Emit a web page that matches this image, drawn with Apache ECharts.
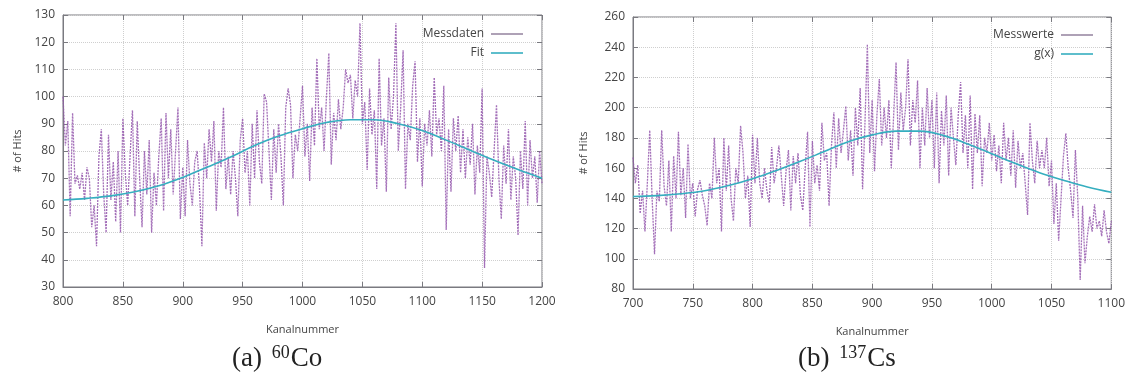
<!DOCTYPE html>
<html>
<head>
<meta charset="utf-8">
<title>Gamma-Spektren 60Co und 137Cs</title>
<script src="https://cdn.jsdelivr.net/npm/echarts@6/dist/echarts.min.js"></script>
<style>
  html, body { margin: 0; padding: 0; background: #fff; }
  #chart { width: 1128px; height: 382px; }
</style>
</head>
<body>
<div id="chart"></div>
<script>
// ---- Messdaten 60Co: Kanäle 800..1200 in Schritten von 2 ----
const coStart = 800;
const coStep = 2;
const coCounts = [
  100, 82, 91, 56, 94, 68, 71, 66, 72, 62, 74, 70, 52, 60, 45, 78, 88, 64, 50, 86,
  62, 76, 54, 80, 50, 92, 72, 60, 78, 95, 56, 91, 70, 52, 80, 64, 84, 50, 72, 60,
  78, 92, 58, 94, 70, 88, 64, 80, 96, 55, 74, 56, 84, 68, 60, 76, 80, 66, 45, 83,
  70, 88, 76, 91, 58, 80, 74, 96, 66, 78, 64, 80, 70, 56, 84, 92, 72, 80, 60, 90,
  70, 95, 76, 68, 101, 98, 80, 62, 88, 72, 90, 78, 60, 96, 103, 97, 70, 86, 80, 92,
  104, 78, 90, 69, 96, 82, 114, 88, 96, 80, 100, 116, 75, 94, 84, 99, 88, 96, 110, 105,
  108, 92, 106, 100, 127, 90, 98, 73, 103, 86, 95, 66, 114, 82, 92, 65, 107, 88, 100, 127,
  80, 96, 117, 66, 90, 84, 104, 113, 76, 92, 67, 90, 82, 95, 78, 107, 86, 92, 80, 104,
  51, 88, 65, 92, 80, 93, 72, 88, 70, 85, 75, 90, 64, 82, 72, 103, 37, 78, 72, 63,
  80, 97, 70, 55, 82, 68, 88, 62, 78, 70, 49, 80, 66, 91, 60, 84, 70, 78, 61, 80,
  68
];
// Fit 60Co
const coFitChannels = [800, 820, 840, 860, 880, 900, 920, 940, 960, 980, 1000, 1020, 1040, 1060, 1080, 1100, 1120, 1140, 1160, 1180, 1200];
const coFitValues = [62.0, 62.6, 63.5, 65.0, 67.2, 70.3, 74.0, 77.8, 82.0, 85.5, 88.2, 90.5, 91.5, 91.5, 90.0, 87.5, 84.0, 80.3, 76.6, 73.2, 70.0];

// ---- Messwerte 137Cs: Kanäle 700..1100 in Schritten von 2 ----
const csStart = 700;
const csStep = 2;
const csCounts = [
  167, 150, 162, 130, 145, 118, 150, 185, 140, 103, 145, 138, 185, 148, 135, 165, 118, 168, 140, 184,
  142, 160, 127, 176, 140, 150, 128, 146, 152, 142, 135, 122, 150, 140, 180, 150, 160, 118, 180, 145,
  175, 140, 125, 160, 150, 188, 170, 140, 155, 121, 182, 150, 180, 150, 140, 160, 145, 137, 174, 150,
  160, 175, 155, 135, 158, 172, 132, 168, 150, 170, 142, 132, 160, 184, 121, 178, 150, 162, 145, 190,
  165, 170, 135, 175, 197, 160, 193, 170, 185, 201, 165, 185, 155, 200, 175, 213, 146, 190, 242, 170,
  205, 158, 195, 219, 175, 200, 180, 205, 160, 195, 230, 172, 210, 185, 200, 232, 175, 205, 190, 218,
  160, 200, 175, 213, 180, 205, 160, 210, 150, 198, 175, 208, 155, 200, 180, 162, 195, 217, 170, 195,
  160, 208, 146, 196, 170, 195, 148, 180, 170, 190, 165, 182, 158, 175, 150, 190, 165, 180, 155, 185,
  147, 178, 160, 170, 150, 129, 190, 165, 150, 178, 160, 172, 160, 180, 148, 165, 123, 150, 112, 140,
  168, 183, 160, 145, 127, 172, 140, 86, 135, 97, 115, 128, 118, 136, 120, 125, 115, 132, 118, 110,
  125
];
// Fit g(x) 137Cs
const csFitChannels = [700, 720, 740, 760, 780, 800, 820, 840, 860, 880, 900, 920, 940, 960, 980, 1000, 1020, 1040, 1060, 1080, 1100];
const csFitValues = [141.2, 141.8, 143.0, 145.0, 148.5, 153.0, 158.5, 164.5, 171.0, 177.5, 182.0, 184.5, 184.5, 181.5, 176.0, 169.5, 163.0, 157.0, 152.0, 147.5, 144.0];

// Achsen
const coXTicks = { min: 800, max: 1200, interval: 50 };
const coYTicks = { min: 30, max: 130, interval: 10 };
const csXTicks = { min: 700, max: 1100, interval: 50 };
const csYTicks = { min: 80, max: 260, interval: 20 };

function pairs(start, step, values) {
  return values.map((v, i) => [start + i * step, v]);
}
function zip(xs, ys) {
  return xs.map((x, i) => [x, ys[i]]);
}

const FONT = 'Open Sans';
const TXT = '#444';
const FRAME = '#7a7a80';
const DATA_COLOR = '#9457ad';
const FIT_COLOR = '#35aebf';
const plain = v => String(v);

const grids = [
  { left: 63, top: 15, width: 479, height: 272, show: true, borderColor: FRAME, borderWidth: 1 },
  { left: 633, top: 17, width: 479, height: 272, show: true, borderColor: FRAME, borderWidth: 1 }
];

function mainX(gi, t) {
  return {
    type: 'value', gridIndex: gi, min: t.min, max: t.max, interval: t.interval,
    name: 'Kanalnummer', nameLocation: 'middle', nameGap: 37,
    nameTextStyle: { fontFamily: FONT, fontSize: 11, color: TXT },
    axisLine: { show: true, onZero: false, lineStyle: { color: FRAME } },
    axisTick: { show: true, inside: true, length: 5, lineStyle: { color: FRAME } },
    axisLabel: { fontFamily: FONT, fontSize: 12, color: TXT, margin: 9, formatter: plain },
    splitLine: { show: true, lineStyle: { color: '#cfcfcf', type: 'dotted', width: 1 } }
  };
}
function mirrorX(gi, t) {
  return {
    type: 'value', gridIndex: gi, position: 'top', min: t.min, max: t.max, interval: t.interval,
    axisLine: { show: false },
    axisTick: { show: true, inside: true, length: 5, lineStyle: { color: FRAME } },
    axisLabel: { show: false }, splitLine: { show: false }
  };
}
function mainY(gi, t, gap) {
  return {
    type: 'value', gridIndex: gi, min: t.min, max: t.max, interval: t.interval,
    name: '# of Hits', nameLocation: 'middle', nameGap: gap, nameRotate: 90,
    nameTextStyle: { fontFamily: FONT, fontSize: 11, color: TXT },
    axisLine: { show: true, onZero: false, lineStyle: { color: FRAME } },
    axisTick: { show: true, inside: true, length: 5, lineStyle: { color: FRAME } },
    axisLabel: { fontFamily: FONT, fontSize: 12, color: TXT, margin: 8, formatter: plain },
    splitLine: { show: true, lineStyle: { color: '#cfcfcf', type: 'dotted', width: 1 } }
  };
}
function mirrorY(gi, t) {
  return {
    type: 'value', gridIndex: gi, position: 'right', min: t.min, max: t.max, interval: t.interval,
    axisLine: { show: false },
    axisTick: { show: true, inside: true, length: 5, lineStyle: { color: FRAME } },
    axisLabel: { show: false }, splitLine: { show: false }
  };
}

function dataSeries(name, xi, yi, data) {
  return {
    name: name, type: 'line', xAxisIndex: xi, yAxisIndex: yi, data: data,
    showSymbol: false, symbol: 'none', animation: false,
    lineStyle: { color: DATA_COLOR, width: 1.3, type: [2, 1], opacity: 0.85 },
    itemStyle: { color: '#9a8aa4' }
  };
}
function fitSeries(name, xi, yi, data) {
  return {
    name: name, type: 'line', xAxisIndex: xi, yAxisIndex: yi, data: data,
    smooth: 0.4, showSymbol: false, symbol: 'none', animation: false, z: 3,
    lineStyle: { color: FIT_COLOR, width: 1.6 },
    itemStyle: { color: FIT_COLOR }
  };
}

function legendAt(names, right, top) {
  return {
    data: names.map(n => ({ name: n, icon: 'path://M0,0 L32,0 L32,1.6 L0,1.6 Z' })),
    orient: 'vertical', right: right, top: top, align: 'right',
    itemWidth: 32, itemHeight: 2, itemGap: 7,
    textStyle: { fontFamily: FONT, fontSize: 12, color: TXT, padding: [0, 2, 0, 0] },
    selectedMode: false
  };
}

const CAPTION_FONT = '27px "Liberation Serif", serif';
const SUP_FONT = '18px "Liberation Serif", serif';

const chart = echarts.init(document.getElementById('chart'), null, { renderer: 'canvas' });
chart.setOption({
  backgroundColor: '#ffffff',
  animation: false,
  grid: grids,
  xAxis: [mainX(0, coXTicks), mainX(1, csXTicks), mirrorX(0, coXTicks), mirrorX(1, csXTicks)],
  yAxis: [mainY(0, coYTicks, 40), mainY(1, csYTicks, 44), mirrorY(0, coYTicks), mirrorY(1, csYTicks)],
  legend: [
    legendAt(['Messdaten', 'Fit'], 600, 23),
    legendAt(['Messwerte', 'g(x)'], 30, 24)
  ],
  series: [
    dataSeries('Messdaten', 0, 0, pairs(coStart, coStep, coCounts)),
    fitSeries('Fit', 0, 0, zip(coFitChannels, coFitValues)),
    dataSeries('Messwerte', 1, 1, pairs(csStart, csStep, csCounts)),
    fitSeries('g(x)', 1, 1, zip(csFitChannels, csFitValues))
  ],
  graphic: [
    {
      type: 'text', left: 232, top: 344,
      style: {
        text: '(a) {sup|60}Co',
        font: CAPTION_FONT, fill: '#222',
        rich: { sup: { font: SUP_FONT, fill: '#222', verticalAlign: 'top', padding: [0, 1, 12, 3] } }
      }
    },
    {
      type: 'text', left: 798, top: 344,
      style: {
        text: '(b) {sup|137}Cs',
        font: CAPTION_FONT, fill: '#222',
        rich: { sup: { font: SUP_FONT, fill: '#222', verticalAlign: 'top', padding: [0, 1, 12, 3] } }
      }
    }
  ]
});
</script>
</body>
</html>
